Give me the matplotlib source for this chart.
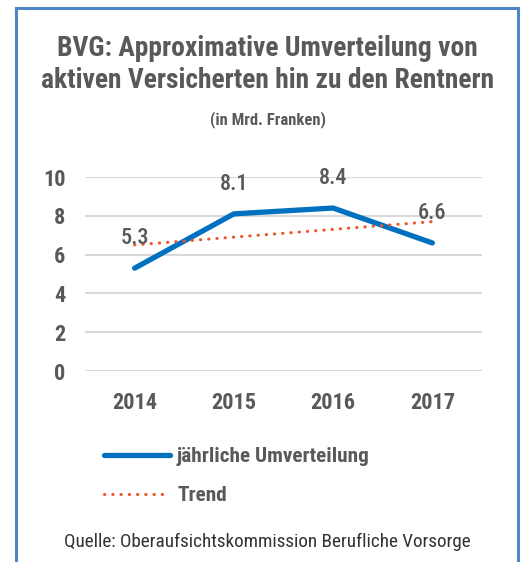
import numpy as np
import matplotlib
matplotlib.use('Agg')
import matplotlib.pyplot as plt

plt.rcParams['font.family'] = ['Roboto Condensed', 'DejaVu Sans']

YEARS        = ["2014", "2015", "2016", "2017"]
UMVERTEILUNG = [5.3, 8.1, 8.4, 6.6]
TREND_X      = [0, 3]
TREND_Y      = [6.5, 7.7]
Y_TICKS      = [0, 2, 4, 6, 8, 10]

GREY   = "#595959"
BLUE   = "#0070C0"
ORANGE = "#F0522A"
FRAME  = "#4F86C6"

W, H = 525, 562
fig = plt.figure(figsize=(W / 100, H / 100), dpi=100)

# Rahmen (ohne untere Kante)
fig.add_artist(plt.Line2D([16 / W, 16 / W], [0, 1 - 8 / H], color=FRAME, lw=2.2, transform=fig.transFigure))
fig.add_artist(plt.Line2D([16 / W, 518 / W], [1 - 8 / H, 1 - 8 / H], color=FRAME, lw=2.2, transform=fig.transFigure))
fig.add_artist(plt.Line2D([518 / W, 518 / W], [0, 1 - 8 / H], color=FRAME, lw=2.2, transform=fig.transFigure))

fig.text(0.51, 1 - 48 / H, "BVG: Approximative Umverteilung von", ha='center', va='center',
         fontsize=19.8, fontweight='bold', color=GREY)
fig.text(0.51, 1 - 80 / H, "aktiven Versicherten hin zu den Rentnern", ha='center', va='center',
         fontsize=19.8, fontweight='bold', color=GREY)
fig.text(0.51, 1 - 120 / H, "(in Mrd. Franken)", ha='center', va='center',
         fontsize=12, fontweight='bold', color=GREY)

ax = fig.add_axes([85 / W, 1 - 371 / H, 397 / W, 194 / H])
x = np.arange(len(YEARS))
line_main, = ax.plot(x, UMVERTEILUNG, color=BLUE, lw=3.8, solid_capstyle='round',
                     solid_joinstyle='round', label="jährliche Umverteilung", zorder=3)
line_trend, = ax.plot(TREND_X, TREND_Y, color=ORANGE, lw=2.2, linestyle=(0, (0.1, 2.6)),
                      dash_capstyle='round', label="Trend", zorder=4)

for xi, v in zip(x, UMVERTEILUNG):
    ax.annotate(f"{v:.1f}", (xi, v), xytext=(0, 21.5), textcoords='offset points',
                ha='center', va='center', fontsize=16, fontweight='medium', color=GREY, zorder=5)

ax.set_xlim(-0.5, len(YEARS) - 0.5)
ax.set_ylim(0, 10)
ax.set_yticks(Y_TICKS)
ax.set_xticks(x)
ax.set_xticklabels(YEARS)
ax.tick_params(axis='both', length=0, labelsize=16, labelcolor=GREY)
ax.tick_params(axis='y', pad=14)
ax.tick_params(axis='x', pad=15)
for lab in ax.get_xticklabels() + ax.get_yticklabels():
    lab.set_fontweight('bold')
ax.grid(axis='y', color="#D9D9D9", lw=1.5)
ax.set_axisbelow(True)
for s in ax.spines.values():
    s.set_visible(False)

leg = fig.legend(handles=[line_main, line_trend], loc='upper left',
                 bbox_to_anchor=(85 / W, 1 - 428 / H), frameon=False,
                 prop={'size': 15.3, 'weight': 'bold'}, handlelength=3.1,
                 handletextpad=0.33, labelspacing=0.95)
for t in leg.get_texts():
    t.set_color(GREY)

fig.text(0.51, 1 - 542 / H, "Quelle: Oberaufsichtskommission Berufliche Vorsorge",
         ha='center', va='center', fontsize=13.8, color="#333333")

fig.savefig("out.png", dpi=100)
